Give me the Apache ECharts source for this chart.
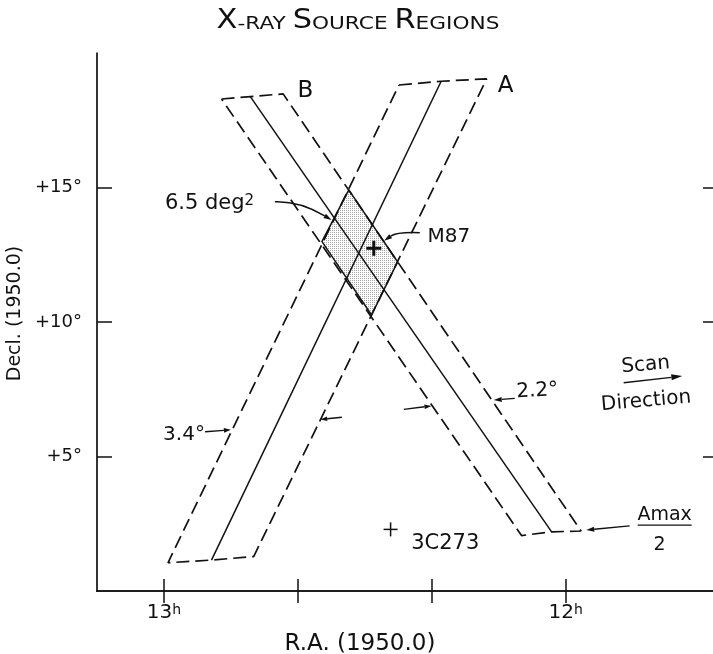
<!DOCTYPE html>
<html><head><meta charset="utf-8">
<script src="https://cdn.jsdelivr.net/npm/echarts@6/dist/echarts.min.js"></script>
<style>html,body{margin:0;padding:0;background:#fff}#c{width:713px;height:654px}</style>
</head><body><div id="c"></div>
<script>
// R.A. in minutes of time (13h = 780 min), Decl. in degrees
const raTicks = [720, 740, 760, 780];
const raLabels = [720, 780];
const decTicks = [5, 10, 15];
const decLabels = ['+5°', '+10°', '+15°'];

// band corners: [left, centre, right]
const bandATop = [[744.9, 18.81], [738.6, 18.95], [731.8, 19.04]];
const bandABottom = [[779.4, 1.05], [772.9, 1.15], [766.6, 1.28]];
const bandBTop = [[771.4, 18.29], [767.1, 18.38], [762.2, 18.48]];
const bandBBottom = [[726.6, 2.06], [722.1, 2.20], [717.7, 2.23]];
// overlap region (6.5 deg^2)
const overlap = [[752.4, 14.91], [745.1, 12.24], [749.0, 10.26], [756.4, 12.99]];
// sources: ra, dec, cross size px, stroke width
const sources = [[748.66, 12.74, 15, 3], [746.15, 2.29, 14, 1.5]];
// arrows: x1,y1, x2,y2 (head), control x,y, head length, head half width
const arrows = [
  [763.43, 14.47, 754.97, 13.79, 759.70, 14.50, 8, 2.5],
  [741.79, 13.32, 747.12, 13.02, 745.22, 13.35, 8, 2.5],
  [727.61, 7.16, 730.75, 7.10, null, null, 8, 2.5],
  [773.85, 5.92, 770.00, 5.99, null, null, 7, 2.3],
  [753.43, 6.46, 756.66, 6.38, null, null, 7, 2.3],
  [744.18, 6.75, 740.04, 6.88, null, null, 7, 2.3],
  [711.34, 7.74, 702.58, 7.99, null, null, 11, 3],
  [710.45, 2.42, 716.93, 2.27, null, null, 8, 2.5]
];
const fractionBar = [[709.25, 2.45], [701.19, 2.45]];
// labels: ra, dec, text, font size, align, rotation deg
const labels = [
  [758.88, 18.57, 'B', 23, 'center', 0],
  [728.96, 18.79, 'A', 23, 'center', 0],
  [779.85, 14.35, '{n|6.5 deg}{s|2}', 21, 'left', 0],
  [740.64, 13.16, 'M87', 20, 'left', 0],
  [727.36, 7.40, '2.2°', 20, 'left', 3],
  [777.01, 5.80, '3.4°', 20, 'center', 0],
  [708.06, 8.40, 'Scan', 20, 'center', 5],
  [707.99, 7.06, 'Direction', 20, 'center', 5],
  [737.99, 1.75, '3C273', 21, 'center', 0],
  [705.22, 2.83, 'Amax', 19, 'center', 0],
  [705.97, 1.71, '2', 19, 'center', 0]
];

const FONT = 'DejaVu Sans';
const INK = '#111';

const pc = document.createElement('canvas');
pc.width = 2; pc.height = 2;
const pg = pc.getContext('2d');
pg.fillStyle = '#fff'; pg.fillRect(0, 0, 2, 2);
pg.fillStyle = '#a4a4a4'; pg.fillRect(0, 0, 1, 1);
const stipple = { image: pc, repeat: 'repeat' };

function outline(top, bot) { return [top[0], top[1], top[2], bot[2], bot[1], bot[0], top[0]]; }
function centre(top, bot) { return [top[1], bot[1]]; }

const dashed = { color: INK, width: 1.7, type: [13, 6] };
const solid = { color: INK, width: 1.5 };

function lineSeries(name, data, style) {
  return { type: 'line', name, data, showSymbol: false, symbol: 'none', lineStyle: style, z: 3, silent: true };
}

const chart = echarts.init(document.getElementById('c'), null, { renderer: 'canvas' });
const axisCommon = { min: 698, max: 790, inverse: true, type: 'value', splitLine: { show: false } };
const option = {
  animation: false,
  backgroundColor: '#fff',
  textStyle: { fontFamily: FONT, color: INK },
  grid: { left: 97, right: 0, top: 53, bottom: 63, containLabel: false, outerBoundsMode: 'none' },
  graphic: [{
    type: 'text', x: 358, y: 21, scaleX: 1.17,
    style: {
      text: '{b|X}{s|-RAY }{b|S}{s|OURCE }{b|R}{s|EGIONS}',
      align: 'center', verticalAlign: 'middle', fill: INK,
      rich: {
        b: { fontSize: 26, lineHeight: 26, verticalAlign: 'bottom', fontFamily: FONT, color: INK },
        s: { fontSize: 18.5, lineHeight: 21, verticalAlign: 'bottom', fontFamily: FONT, color: INK }
      }
    }
  }],
  xAxis: [
    Object.assign({}, axisCommon, {
      position: 'bottom',
      name: 'R.A. (1950.0)', nameLocation: 'middle', nameGap: 42,
      nameTextStyle: { fontSize: 23, color: INK, fontFamily: FONT, padding: [0, 90, 0, 0] },
      axisLine: { show: true, lineStyle: { color: INK, width: 1.7 } },
      axisTick: { show: true, inside: true, length: 12, lineStyle: { color: INK, width: 1.5 }, customValues: raTicks },
      axisLabel: {
        show: true, margin: 12, customValues: raLabels,
        formatter: v => '{n|' + (v / 60) + '}{s|h}',
        rich: {
          n: { fontSize: 20, lineHeight: 28, verticalAlign: 'top', fontFamily: FONT, color: INK },
          s: { fontSize: 14, lineHeight: 12, verticalAlign: 'top', fontFamily: FONT, color: INK }
        }
      }
    }),
    Object.assign({}, axisCommon, {
      position: 'top',
      axisLine: { show: true, lineStyle: { color: INK, width: 1.7 } },
      axisTick: { show: true, inside: true, length: 12, lineStyle: { color: INK, width: 1.5 }, customValues: raTicks },
      axisLabel: { show: false }
    })
  ],
  yAxis: [
    {
      type: 'value', min: 0, max: 20, position: 'left', splitLine: { show: false },
      name: 'Decl. (1950.0)', nameLocation: 'middle', nameRotate: 90, nameGap: 60,
      nameTextStyle: { fontSize: 19, color: INK, fontFamily: FONT, padding: [0, 0, 0, 17] },
      axisLine: { show: true, lineStyle: { color: INK, width: 1.7 } },
      axisTick: { show: true, inside: true, length: 15, lineStyle: { color: INK, width: 1.5 }, customValues: decTicks },
      axisLabel: {
        show: true, margin: 15, customValues: decTicks, fontSize: 18, color: INK, fontFamily: FONT,
        formatter: v => decLabels[decTicks.indexOf(v)]
      }
    },
    {
      type: 'value', min: 0, max: 20, position: 'right', splitLine: { show: false },
      axisLine: { show: false },
      axisTick: { show: true, inside: true, length: 10, lineStyle: { color: INK, width: 1.5 }, customValues: decTicks },
      axisLabel: { show: false }
    }
  ],
  series: [
    {
      type: 'custom', name: 'overlap', z: 1, silent: true,
      data: [overlap[0]],
      renderItem: (params, api) => ({
        type: 'polygon',
        shape: { points: overlap.map(p => api.coord(p)) },
        style: { fill: stipple, stroke: INK, lineWidth: 1.5 }
      })
    },
    lineSeries('A outline', outline(bandATop, bandABottom), dashed),
    lineSeries('A centre', centre(bandATop, bandABottom), solid),
    lineSeries('B outline', outline(bandBTop, bandBBottom), dashed),
    lineSeries('B centre', centre(bandBTop, bandBBottom), solid),
    lineSeries('fraction', fractionBar, { color: INK, width: 1.4 }),
    {
      type: 'custom', name: 'sources', z: 4, silent: true,
      data: sources.map(s => [s[0], s[1]]),
      renderItem: (params, api) => {
        const s = sources[params.dataIndex];
        const p = api.coord([s[0], s[1]]);
        const h = s[2] / 2;
        return {
          type: 'group', children: [
            { type: 'line', shape: { x1: p[0] - h, y1: p[1], x2: p[0] + h, y2: p[1] }, style: { stroke: INK, lineWidth: s[3] } },
            { type: 'line', shape: { x1: p[0], y1: p[1] - h, x2: p[0], y2: p[1] + h }, style: { stroke: INK, lineWidth: s[3] } }
          ]
        };
      }
    },
    {
      type: 'custom', name: 'arrows', z: 4, silent: true,
      data: arrows.map(a => [a[0], a[1]]),
      renderItem: (params, api) => {
        const a = arrows[params.dataIndex];
        const p1 = api.coord([a[0], a[1]]);
        const p2 = api.coord([a[2], a[3]]);
        const hasC = a[4] != null;
        const pcx = hasC ? api.coord([a[4], a[5]]) : null;
        const ref = hasC ? pcx : p1;
        const dx = p2[0] - ref[0], dy = p2[1] - ref[1];
        const L = Math.hypot(dx, dy);
        const ux = dx / L, uy = dy / L;
        const hl = a[6], hw = a[7];
        const b = [p2[0] - ux * hl, p2[1] - uy * hl];
        const head = [p2, [b[0] - uy * hw, b[1] + ux * hw], [b[0] + uy * hw, b[1] - ux * hw]];
        const stem = hasC
          ? { type: 'bezierCurve', shape: { x1: p1[0], y1: p1[1], cpx1: pcx[0], cpy1: pcx[1], x2: b[0], y2: b[1] }, style: { stroke: INK, fill: null, lineWidth: 1.4 } }
          : { type: 'line', shape: { x1: p1[0], y1: p1[1], x2: b[0], y2: b[1] }, style: { stroke: INK, lineWidth: 1.4 } };
        return { type: 'group', children: [stem, { type: 'polygon', shape: { points: head }, style: { fill: INK } }] };
      }
    },
    {
      type: 'custom', name: 'labels', z: 5, silent: true,
      data: labels.map(l => [l[0], l[1]]),
      renderItem: (params, api) => {
        const l = labels[params.dataIndex];
        const p = api.coord([l[0], l[1]]);
        return {
          type: 'text', x: p[0], y: p[1], rotation: l[5] * Math.PI / 180,
          style: {
            text: l[2], fill: INK, fontSize: l[3], fontFamily: FONT,
            align: l[4], verticalAlign: 'middle',
            rich: {
              n: { fontSize: 21, lineHeight: 23, verticalAlign: 'top', fontFamily: FONT, color: INK },
              s: { fontSize: 15, lineHeight: 15, verticalAlign: 'top', fontFamily: FONT, color: INK }
            }
          }
        };
      }
    }
  ]
};
chart.setOption(option);
</script></body></html>
